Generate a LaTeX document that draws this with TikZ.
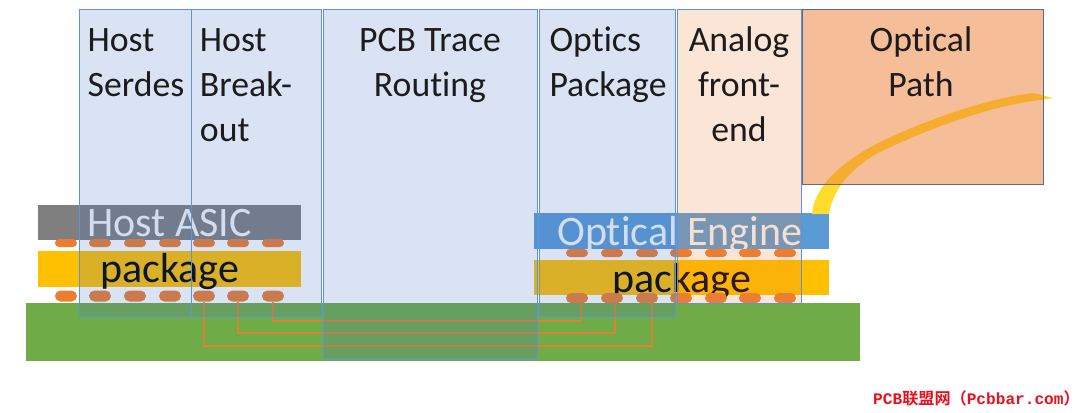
\documentclass[tikz,border=0pt]{standalone}
\usepackage{fontspec}
\setmainfont{Carlito}[Ligatures=NoCommon]
\newfontfamily\cjk{Noto Sans CJK SC}[BoldFont={* Bold}]
\newfontfamily\wmono{Liberation Mono}
\usetikzlibrary{shapes.misc}
\definecolor{colblue}{HTML}{4472C4}
\definecolor{coledge}{HTML}{5B93DC}
\definecolor{colorange}{HTML}{ED7D31}
\definecolor{boardgreen}{HTML}{6FAB46}
\definecolor{asicgray}{HTML}{7F7F7F}
\definecolor{pkgyellow}{HTML}{FFC000}
\definecolor{enginablue}{HTML}{5B9BD5}
\definecolor{chiptext}{HTML}{F6F8FC}
\definecolor{fibreyellow}{HTML}{FFDC2E}
\definecolor{headtext}{HTML}{1C1C1C}
\definecolor{pathedge}{HTML}{5F6B85}
\definecolor{wmred}{HTML}{E8101E}
\tikzset{
    pxsize/.style 2 args={minimum width=#1*0.75pt, minimum height=#2*0.75pt},
    block/.style={rectangle, anchor=north west, inner sep=0pt},
    column/.style={block, fill=colblue, fill opacity=0.2, draw=coledge, line width=0.8pt},
    analogcol/.style={block, fill=colorange, fill opacity=0.2, draw=coledge, line width=0.8pt},
    pad/.style={rounded rectangle, fill=colorange, inner sep=0pt},
    head/.style={anchor=base, inner sep=0pt, font=\fontsize{26.8}{33.75}\selectfont, text=headtext},
    chip/.style={anchor=base west, inner sep=0pt, font=\fontsize{31.5}{36}\selectfont},
    trace/.style={colorange, line width=1.8pt, opacity=0.85}
}
\begin{document}
\begin{tikzpicture}[x=0.75pt, y=-0.75pt]
    \useasboundingbox (0,0) rectangle (1080,413);

    \node [block, fill=boardgreen, pxsize={834}{58}] (board) at (26,303) {};
    \node [block, fill=asicgray, pxsize={263}{35}] (asic) at (38,205) {};
    \node [block, fill=pkgyellow, pxsize={263}{36}] (hostpkg) at (38,251) {};
    \node [block, fill=enginablue, pxsize={295}{36}] (engine) at (534,213) {};
    \node [block, fill=pkgyellow, pxsize={295}{35}] (optpkg) at (534,260) {};

    \node [chip, text=chiptext] (asictext) at (87,237) {Host ASIC};
    \node [chip, text=chiptext] (enginetext) at (557,245) {Optical Engine};
    \node [chip, text=black] (optpkgtext) at (612,292) {package};

    \foreach \i/\x in {1/66,2/100,3/135,4/170,5/204,6/238,7/273} {
        \node [pad, pxsize={22}{8}] (hosttop\i) at (\x,243) {};
        \node [pad, pxsize={22}{11}] (hostbot\i) at (\x,296) {};
    }
    \foreach \i/\x in {1/577,2/612,3/647,4/681,5/716,6/750,7/785} {
        \node [pad, pxsize={22}{8}] (opttop\i) at (\x,253) {};
        \node [pad, pxsize={22}{10}] (optbot\i) at (\x,298) {};
    }

    \node [chip, text=black] (hostpkgtext) at (100,282) {package};

    \coordinate (turna) at (581,321);
    \coordinate (turnb) at (615,333);
    \coordinate (turnc) at (652,346);
    \draw [trace] (hostbot7.south) |- (turna) -- (turna |- optbot1.south);
    \draw [trace] (hostbot6.south) |- (turnb) -- (turnb |- optbot2.south);
    \draw [trace] (hostbot5.south) |- (turnc) -- (turnc |- optbot3.south);

    \fill [fibreyellow] (812,214) .. controls (814,190) and (835,165) .. (880,142)
        .. controls (930,118) and (990,98) .. (1033,93) -- (1053,98) -- (1040,100)
        .. controls (990,106) and (930,128) .. (880,152)
        .. controls (850,168) and (833,190) .. (829,214) -- cycle;

    \node [column, pxsize={112}{307}] (serdes) at (79,9) {};
    \node [column, pxsize={130}{307}] (breakout) at (191,9) {};
    \node [column, pxsize={214}{349}] (routing) at (323,9) {};
    \node [column, pxsize={136}{307}] (optics) at (539,9) {};
    \node [analogcol, pxsize={124}{294}] (analog) at (677,9) {};
    \node [block, fill=colorange, fill opacity=0.5, draw=pathedge, line width=0.8pt, pxsize={241}{175}] (path) at (802,9) {};

    \node [head, align=left] (serdestext) at (136,97) {Host\\Serdes};
    \node [head, align=left] (breakouttext) at (246,142) {Host\\Break-\\out};
    \node [head, align=center] (routingtext) at (430,97) {PCB Trace\\Routing};
    \node [head, align=left] (opticstext) at (608,97) {Optics\\Package};
    \node [head, align=center] (analogtext) at (739,142) {Analog\\front-\\end};
    \node [head, align=center] (pathtext) at (921,97) {Optical\\Path};

    \node [anchor=base east, inner sep=0pt, text=wmred, font=\fontsize{12.1}{15}\selectfont\bfseries] (mark) at (1080,404)
        {{\wmono PCB}{\cjk 联盟网（}{\wmono Pcbbar.com}{\cjk ）}};
\end{tikzpicture}
\end{document}
